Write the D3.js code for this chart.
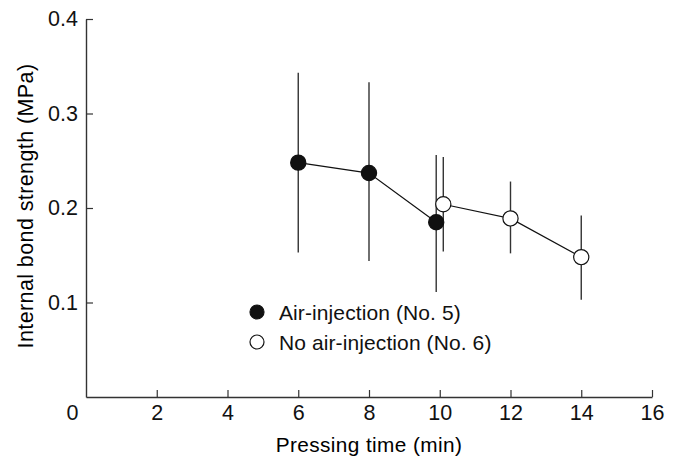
<!DOCTYPE html>
<html>
<head>
<meta charset="utf-8">
<script src="https://cdn.jsdelivr.net/npm/d3@7.9.0/dist/d3.min.js"></script>
<style>
  body { margin: 0; background: #fff; }
  svg { display: block; font-family: "Liberation Sans", Arial, sans-serif; }
  .tick text { fill: #111; }
</style>
</head>
<body>
<div id="chart"></div>
<script>
// data
const airTime = [6, 8, 9.9];
const airMean = [0.248, 0.237, 0.185];
const airLow  = [0.153, 0.144, 0.111];
const airHigh = [0.343, 0.333, 0.256];

const noAirTime = [10.1, 12, 14];
const noAirMean = [0.204, 0.189, 0.148];
const noAirLow  = [0.154, 0.152, 0.103];
const noAirHigh = [0.254, 0.228, 0.192];

const xTicks = [0, 2, 4, 6, 8, 10, 12, 14, 16];
const yTicks = [0.1, 0.2, 0.3, 0.4];

const W = 678, H = 464;
const margin = { top: 19, right: 26, bottom: 67, left: 86 };

const svg = d3.select('#chart').append('svg')
  .attr('width', W).attr('height', H);

const x = d3.scaleLinear().domain([0, 16]).range([margin.left, W - margin.right]);
const y = d3.scaleLinear().domain([0, 0.4]).range([H - margin.bottom, margin.top]);

const series = [
  { fill: '#111', pts: airTime.map((t, i) => ({ t, m: airMean[i], lo: airLow[i], hi: airHigh[i] })) },
  { fill: '#fff', pts: noAirTime.map((t, i) => ({ t, m: noAirMean[i], lo: noAirLow[i], hi: noAirHigh[i] })) }
];

// axes
const xAxis = svg.append('g')
  .attr('transform', `translate(0,${y(0)})`)
  .call(d3.axisBottom(x).tickValues(xTicks).tickSizeInner(-7).tickSizeOuter(0).tickPadding(8).tickFormat(d3.format('d')));
const yAxis = svg.append('g')
  .attr('transform', `translate(${x(0)},0)`)
  .call(d3.axisLeft(y).tickValues(yTicks).tickSizeInner(-7).tickSizeOuter(0).tickPadding(8).tickFormat(d3.format('.1f')));

[xAxis, yAxis].forEach(a => {
  a.select('.domain').attr('stroke', '#333').attr('stroke-width', 1.4);
  a.selectAll('.tick line').attr('stroke', '#333').attr('stroke-width', 1.2);
  a.selectAll('.tick text').style('font-size', '21.5px');
});
// "0" sits left of the origin
xAxis.selectAll('.tick').filter(d => d === 0).select('text').attr('dx', -14);
xAxis.selectAll('.tick').filter(d => d === 0).select('line').remove();

// axis titles
svg.append('text')
  .attr('x', x(8)).attr('y', 452)
  .attr('text-anchor', 'middle')
  .style('font-size', '20.8px').style('letter-spacing', '0.4px')
  .text('Pressing time (min)');
svg.append('text')
  .attr('transform', `translate(33,${206}) rotate(-90)`)
  .attr('text-anchor', 'middle')
  .style('font-size', '21.5px').style('letter-spacing', '0.4px')
  .text('Internal bond strength (MPa)');

// error bars
series.forEach(s => {
  svg.append('g').selectAll('line').data(s.pts).join('line')
    .attr('x1', d => x(d.t)).attr('x2', d => x(d.t))
    .attr('y1', d => y(d.lo)).attr('y2', d => y(d.hi))
    .attr('stroke', '#333').attr('stroke-width', 1.4);
});

// lines
const line = d3.line().x(d => x(d.t)).y(d => y(d.m));
series.forEach(s => {
  svg.append('path').datum(s.pts)
    .attr('d', line).attr('fill', 'none')
    .attr('stroke', '#111').attr('stroke-width', 1.2);
});

// markers
series.forEach(s => {
  svg.append('g').selectAll('circle').data(s.pts).join('circle')
    .attr('cx', d => x(d.t)).attr('cy', d => y(d.m))
    .attr('r', 7.6)
    .attr('fill', s.fill).attr('stroke', '#111').attr('stroke-width', 1.2);
});

// legend
const legendItems = [
  { label: 'Air-injection (No. 5)', fill: '#111' },
  { label: 'No air-injection (No. 6)', fill: '#fff' }
];
const lg = svg.append('g').attr('transform', 'translate(257,312)');
lg.selectAll('g').data(legendItems).join('g')
  .attr('transform', (d, i) => `translate(0,${i * 30})`)
  .each(function (d) {
    const g = d3.select(this);
    g.append('circle').attr('r', 7).attr('fill', d.fill).attr('stroke', '#111').attr('stroke-width', 1.2);
    g.append('text').attr('x', 22).attr('y', 7.5)
      .style('font-size', '21px').style('letter-spacing', '0.1px')
      .attr('fill', '#111')
      .text(d.label);
  });
</script>
</body>
</html>
